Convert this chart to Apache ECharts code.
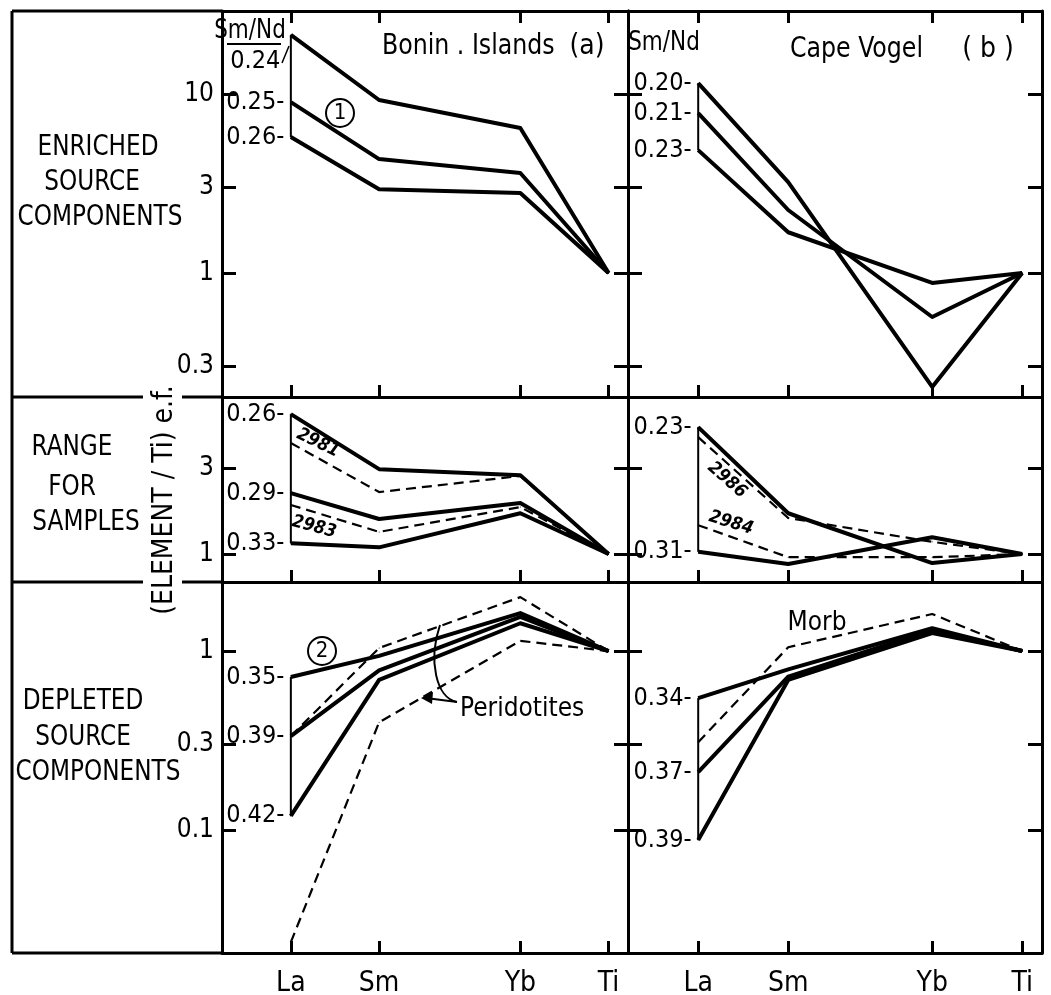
<!DOCTYPE html>
<html><head><meta charset="utf-8">
<script src="https://cdn.jsdelivr.net/npm/echarts@6/dist/echarts.min.js"></script>
<style>html,body{margin:0;padding:0;background:#fff}#c{width:1051px;height:995px}</style>
</head><body><div id="c"></div>
<script>
// ---------- data ----------
const elements = ['La', 'Sm', 'Yb', 'Ti'];
const elementPos = [57, 62, 70, 75];

// (a) Bonin Islands - enriched source components (Sm/Nd 0.24, 0.25, 0.26)
const bonEnrRatios = ['0.24', '0.25', '0.26'];
const bonEnr024 = [21.4, 9.26, 6.46, 1];
const bonEnr025 = [9.02, 4.33, 3.62, 1];
const bonEnr026 = [5.75, 2.94, 2.80, 1];

// (b) Cape Vogel - enriched source components (Sm/Nd 0.20, 0.21, 0.23)
const cvEnrRatios = ['0.20', '0.21', '0.23'];
const cvEnr020 = [11.5, 3.22, 0.231, 1];
const cvEnr021 = [7.83, 2.25, 0.568, 1];
const cvEnr023 = [4.86, 1.69, 0.88, 1];

// Bonin Islands - range for samples
const bonRngRatios = ['0.26', '0.29', '0.33'];
const bonRng026 = [6.05, 2.98, 2.76, 1];
const bonRng029 = [2.19, 1.57, 1.93, 1];
const bonRng033 = [1.15, 1.09, 1.69, 1];
const bonS2981 = [4.17, 2.22, 2.73, 1];
const bonS2983 = [1.88, 1.33, 1.83, 1];

// Cape Vogel - range for samples
const cvRngRatios = ['0.23', '0.31'];
const cvRng023 = [5.12, 1.69, 0.89, 1];
const cvRng031 = [1.03, 0.88, 1.24, 1];
const cvS2986 = [4.50, 1.59, 1.17, 1];
const cvS2984 = [1.45, 0.96, 0.96, 1];

// Bonin Islands - depleted source components
const bonDepRatios = ['0.35', '0.39', '0.42'];
const bonDep035 = [0.716, 0.94, 1.63, 1];
const bonDep039 = [0.335, 0.78, 1.55, 1];
const bonDep042 = [0.120, 0.69, 1.43, 1];
const peridotiteUpper = [0.335, 1.04, 2.0, 1];
const peridotiteLower = [0.0237, 0.40, 1.14, 1];

// Cape Vogel - depleted source components
const cvDepRatios = ['0.34', '0.37', '0.39'];
const cvDep034 = [0.546, 0.79, 1.34, 1];
const cvDep037 = [0.211, 0.72, 1.31, 1];
const cvDep039 = [0.088, 0.69, 1.26, 1];
const morb = [0.31, 1.05, 1.61, 1];

// y tick labels per row
const ticksTop = [0.3, 1, 3, 10];
const ticksMid = [1, 3];
const ticksBot = [0.1, 0.3, 1];

// ---------- layout ----------
const FONT = "'Liberation Sans Narrow','DejaVu Sans Condensed','Liberation Sans',sans-serif";
const cols = [{left: 222, width: 406}, {left: 628, width: 414}];
const rows = [
  {top: 11, height: 386, min: 0.203, max: 29.1, ticks: ticksTop},
  {top: 397, height: 185, min: 0.698, max: 7.54, ticks: ticksMid},
  {top: 582, height: 371, min: 0.0206, max: 2.43, ticks: ticksBot}
];
const XMIN = 53.1, XMAX = 76.1;

const grids = [], xAxes = [], yAxes = [];
const axisLineStyle = {color: '#000', width: 3};
for (let r = 0; r < 3; r++) {
  for (let c = 0; c < 2; c++) {
    const i = r * 2 + c;
    grids.push({left: cols[c].left, width: cols[c].width, top: rows[r].top, height: rows[r].height,
      containLabel: false, outerBoundsMode: 'none'});
    xAxes.push({
      type: 'value', gridIndex: i, min: XMIN, max: XMAX, position: 'bottom',
      axisLine: {show: true, onZero: false, lineStyle: axisLineStyle},
      axisTick: {show: true, inside: true, length: 12, customValues: elementPos, lineStyle: {color: '#000', width: 3}},
      axisLabel: {show: r === 2, customValues: elementPos, margin: 17, color: '#000', fontSize: 28, fontFamily: FONT,
        formatter: v => elements[elementPos.indexOf(v)] || ''},
      splitLine: {show: false}
    });
    yAxes.push({
      type: 'log', logBase: 10, gridIndex: i, min: rows[r].min, max: rows[r].max, position: 'left',
      axisLine: {show: true, onZero: false, lineStyle: axisLineStyle},
      axisTick: {show: true, inside: true, length: 14, customValues: rows[r].ticks, lineStyle: {color: '#000', width: 3}},
      axisLabel: {show: c === 0, customValues: rows[r].ticks, margin: 8, color: '#000', fontSize: 26, fontFamily: FONT,
        formatter: v => String(Math.round(v * 10) / 10)},
      splitLine: {show: false}
    });
  }
}
// extra axes: top ticks for top row, right ticks for all panels
for (let c = 0; c < 2; c++) {
  xAxes.push({
    type: 'value', gridIndex: c, min: XMIN, max: XMAX, position: 'top',
    axisLine: {show: true, onZero: false, lineStyle: axisLineStyle},
    axisTick: {show: true, inside: true, length: 12, customValues: elementPos, lineStyle: {color: '#000', width: 3}},
    axisLabel: {show: false}, splitLine: {show: false}
  });
}
for (let i = 0; i < 6; i++) {
  const r = Math.floor(i / 2);
  yAxes.push({
    type: 'log', logBase: 10, gridIndex: i, min: rows[r].min, max: rows[r].max, position: 'right',
    axisLine: {show: true, onZero: false, lineStyle: axisLineStyle},
    axisTick: {show: true, inside: true, length: 14, customValues: rows[r].ticks, lineStyle: {color: '#000', width: 3}},
    axisLabel: {show: false}, splitLine: {show: false}
  });
}

const series = [];
function addLine(grid, vals, opt) {
  opt = opt || {};
  const data = vals.map((v, k) => {
    if (k === 0 && opt.label) {
      return {value: [elementPos[k], v], label: {show: true, position: 'left', distance: 6,
        formatter: opt.label, offset: opt.offset || [0, 0], color: '#000', fontSize: 25, fontFamily: FONT}};
    }
    return [elementPos[k], v];
  });
  series.push({
    type: 'line', xAxisIndex: grid, yAxisIndex: grid, data,
    symbol: 'circle', symbolSize: 1, showSymbol: true, itemStyle: {color: '#000'},
    lineStyle: {color: '#000', width: opt.dashed ? 2.2 : 4, type: opt.dashed ? [10, 6] : 'solid', cap: 'butt', join: 'round'},
    label: {show: false}, emphasis: {disabled: true}, silent: true, animation: false, z: 3
  });
}
function addConnector(grid, groups) {
  const first = groups.map(g => g[0]);
  series.push({
    type: 'line', xAxisIndex: grid, yAxisIndex: grid,
    data: [[elementPos[0], Math.min(...first)], [elementPos[0], Math.max(...first)]],
    symbol: 'none', lineStyle: {color: '#000', width: 2}, silent: true, animation: false, z: 2
  });
}

// panel (a) top-left
addLine(0, bonEnr024, {label: bonEnrRatios[0], offset: [-4, 27]});
addLine(0, bonEnr025, {label: bonEnrRatios[1] + '-'});
addLine(0, bonEnr026, {label: bonEnrRatios[2] + '-'});
addConnector(0, [bonEnr024, bonEnr025, bonEnr026]);
// panel (b) top-right
addLine(1, cvEnr020, {label: cvEnrRatios[0] + '-'});
addLine(1, cvEnr021, {label: cvEnrRatios[1] + '-'});
addLine(1, cvEnr023, {label: cvEnrRatios[2] + '-'});
addConnector(1, [cvEnr020, cvEnr021, cvEnr023]);
// middle-left
addLine(2, bonRng026, {label: bonRngRatios[0] + '-'});
addLine(2, bonRng029, {label: bonRngRatios[1] + '-'});
addLine(2, bonRng033, {label: bonRngRatios[2] + '-'});
addLine(2, bonS2981, {dashed: true});
addLine(2, bonS2983, {dashed: true});
addConnector(2, [bonRng026, bonRng029, bonRng033]);
// middle-right
addLine(3, cvRng023, {label: cvRngRatios[0] + '-'});
addLine(3, cvRng031, {label: cvRngRatios[1] + '-'});
addLine(3, cvS2986, {dashed: true});
addLine(3, cvS2984, {dashed: true});
addConnector(3, [cvRng023, cvRng031]);
// bottom-left
addLine(4, bonDep035, {label: bonDepRatios[0] + '-'});
addLine(4, bonDep039, {label: bonDepRatios[1] + '-'});
addLine(4, bonDep042, {label: bonDepRatios[2] + '-'});
addLine(4, peridotiteUpper, {dashed: true});
addLine(4, peridotiteLower, {dashed: true});
addConnector(4, [bonDep035, bonDep039, bonDep042]);
// bottom-right
addLine(5, cvDep034, {label: cvDepRatios[0] + '-'});
addLine(5, cvDep037, {label: cvDepRatios[1] + '-'});
addLine(5, cvDep039, {label: cvDepRatios[2] + '-'});
addLine(5, morb, {dashed: true});
addConnector(5, [cvDep034, cvDep037, cvDep039]);

// ---------- annotations ----------
function txt(s, x, y, size, o) {
  o = o || {};
  const al = o.align || 'center';
  return {type: 'text', x, y, rotation: o.rot || 0, scaleX: o.sx || 1, z: 100, silent: true,
    style: {text: s, fill: '#000', font: (o.italic ? 'italic ' : '') + (o.weight || 'normal') + ' ' + size + 'px ' + FONT,
      align: al, verticalAlign: 'middle', textAlign: al, textVerticalAlign: 'middle'}};
}
function ln(x1, y1, x2, y2, w) {
  return {type: 'line', z: 50, silent: true, shape: {x1, y1, x2, y2}, style: {stroke: '#000', lineWidth: w || 3}};
}
const RS = {sx: 0.92};
const graphic = [
  // outer frame and row dividers on the left
  ln(12, 11, 222, 11), ln(12, 11, 12, 953), ln(12, 953, 222, 953),
  ln(12, 397, 143, 397), ln(182, 397, 222, 397),
  ln(12, 582, 143, 582), ln(182, 582, 222, 582),
  // row labels
  txt('ENRICHED', 98, 148, 28, RS), txt('SOURCE', 92, 183, 28, RS), txt('COMPONENTS', 100, 218, 28, RS),
  txt('RANGE', 72, 448, 28, RS), txt('FOR', 72, 488, 28, RS), txt('SAMPLES', 86, 523, 28, RS),
  txt('DEPLETED', 83, 702, 28, RS), txt('SOURCE', 83, 738, 28, RS), txt('COMPONENTS', 98, 773, 28, RS),
  // axis title
  txt('(ELEMENT / Ti) e.f.', 165, 500, 28, {rot: Math.PI / 2}),
  // panel titles
  txt('Bonin . Islands', 382, 47, 28, {align: 'left', sx: 0.94}), txt('(a)', 587, 47, 28),
  txt('Cape Vogel', 790, 50, 28, {align: 'left', sx: 0.94}), txt('( b )', 988, 50, 28),
  // Sm/Nd headers
  txt('Sm/Nd', 250, 31, 26, {sx: 0.92}), ln(227, 44, 281, 44, 2), ln(282, 63, 289, 46, 1.5),
  txt('Sm/Nd', 664, 43, 26, {sx: 0.92}),
  // circled numbers
  {type: 'circle', z: 60, silent: true, shape: {cx: 340, cy: 113, r: 14}, style: {fill: 'none', stroke: '#000', lineWidth: 2}},
  txt('1', 340, 113, 22),
  {type: 'circle', z: 60, silent: true, shape: {cx: 322, cy: 651, r: 14}, style: {fill: 'none', stroke: '#000', lineWidth: 2}},
  txt('2', 322, 651, 22),
  // sample numbers
  txt('2981', 318, 443, 18, {rot: -0.45, weight: 'bold', italic: true}),
  txt('2983', 314, 527, 18, {rot: -0.26, weight: 'bold', italic: true}),
  txt('2986', 727, 480, 18, {rot: -0.72, weight: 'bold', italic: true}),
  txt('2984', 731, 523, 18, {rot: -0.3, weight: 'bold', italic: true}),
  // Morb, Peridotites
  txt('Morb', 817, 623, 26),
  txt('Peridotites', 460, 709, 26, {align: 'left'}),
  {type: 'bezierCurve', z: 60, silent: true, shape: {x1: 440, y1: 625, x2: 457, y2: 702, cpx1: 428, cpy1: 660, cpx2: 436, cpy2: 698},
    style: {fill: 'none', stroke: '#000', lineWidth: 2}},
  ln(457, 702, 426, 698, 2),
  {type: 'polygon', z: 60, silent: true, shape: {points: [[421, 698], [433, 692], [432, 704]]}, style: {fill: '#000'}}
];

const chart = echarts.init(document.getElementById('c'), null, {renderer: 'canvas'});
chart.setOption({
  backgroundColor: '#fff', animation: false,
  grid: grids, xAxis: xAxes, yAxis: yAxes, series, graphic
});
</script></body></html>
